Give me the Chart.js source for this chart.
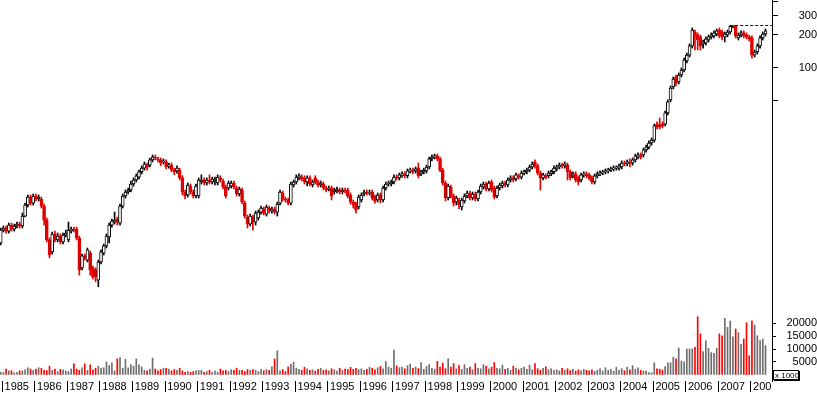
<!DOCTYPE html>
<html>
<head>
<meta charset="utf-8">
<script src="https://cdn.jsdelivr.net/npm/chart.js@4.4.0/dist/chart.umd.min.js"></script>
<style>
  html, body { margin: 0; padding: 0; background: #fff; }
  #wrap { position: relative; width: 817px; height: 395px; overflow: hidden; }
  #price { position: absolute; left: 0; top: 0; }
  #vol { position: absolute; left: 0; top: 313px; }
</style>
</head>
<body>
<div id="wrap">
  <canvas id="price" width="817" height="313"></canvas>
  <canvas id="vol" width="817" height="82"></canvas>
</div>
<script>
"use strict";

// monthly candles, first one is Dec 1984
var startYear = 1984, startMonth = 11;
var years = [1985, 1986, 1987, 1988, 1989, 1990, 1991, 1992, 1993, 1994, 1995, 1996,
             1997, 1998, 1999, 2000, 2001, 2002, 2003, 2004, 2005, 2006, 2007, 2008];

var open = [2.53,
  3.32, 3.47, 3.25, 3.69, 3.39, 3.62, 3.77, 3.62, 4.46, 5.62, 6.65, 5.86,
  6.79, 6.38, 6.38, 5.50, 4.10, 2.70, 2.10, 3.06, 2.70, 2.93, 2.59, 2.99,
  2.70, 3.25, 3.39, 3.39, 2.81, 1.50, 1.93, 1.77, 2.05, 1.50, 1.44, 1.16,
  1.70, 2.05, 2.38, 2.87, 3.69, 3.93, 4.19, 3.85, 5.50, 6.79, 7.39, 7.71,
  8.74, 9.51, 10.1, 11.3, 12.2, 13.0, 13.0, 14.5, 15.4, 14.8, 14.5, 13.9,
  13.9, 12.8, 13.0, 11.7, 11.5, 11.7, 9.93, 7.39, 6.94, 8.38, 7.39, 6.79,
  6.79, 9.12, 9.51, 8.93, 9.51, 9.12, 9.31, 8.93, 9.93, 9.31, 8.21, 8.04,
  8.38, 8.93, 8.04, 7.09, 7.71, 5.86, 4.37, 3.77, 4.37, 3.93, 4.28, 4.85,
  5.17, 4.65, 5.28, 4.95, 5.17, 4.85, 5.86, 7.24, 6.38, 6.25, 5.86, 8.56,
  9.12, 9.93, 10.1, 9.93, 9.12, 9.93, 8.56, 9.93, 9.12, 8.56, 8.74, 8.04,
  7.87, 8.04, 7.39, 7.55, 7.71, 7.39, 7.71, 7.71, 6.94, 5.99, 5.74, 5.39,
  6.25, 7.09, 7.39, 7.24, 7.39, 6.65, 6.25, 6.94, 6.25, 8.04, 8.74, 8.74,
  9.12, 10.1, 9.93, 10.6, 10.8, 10.4, 11.5, 11.7, 11.5, 12.2, 10.8, 11.3,
  11.5, 12.5, 14.8, 15.4, 15.8, 14.8, 11.7, 8.93, 6.51, 8.21, 6.79, 5.99,
  6.25, 5.39, 6.12, 6.79, 7.24, 6.51, 7.09, 6.38, 7.39, 8.21, 8.74, 7.87,
  9.12, 8.04, 6.79, 8.04, 8.38, 8.93, 8.56, 9.51, 9.93, 9.72, 10.4, 10.1,
  11.0, 11.3, 11.7, 12.5, 13.9, 12.8, 11.0, 9.93, 10.4, 10.4, 10.8, 11.3,
  12.0, 12.5, 13.0, 12.8, 13.0, 11.3, 10.4, 10.8, 9.93, 9.51, 10.6, 10.8,
  10.6, 9.93, 9.12, 10.4, 10.8, 11.0, 11.3, 11.5, 11.7, 12.0, 12.2, 12.2,
  12.5, 13.6, 13.3, 13.6, 13.6, 14.5, 15.4, 16.1, 16.1, 17.9, 19.0, 20.7,
  22.0, 30.8, 30.2, 30.8, 30.8, 38.9, 51.1, 67.1, 82.8, 74.5, 86.3, 95.9,
  116, 131, 159, 213, 200, 192, 166, 169, 180, 192, 196, 204,
  222, 213, 192, 200, 213, 240, 240, 188, 200, 209, 200, 192,
  188, 131, 140, 159, 188, 204];

var high = [3.47,
  3.62, 3.62, 3.85, 3.85, 3.77, 3.93, 3.93, 4.75, 5.86, 6.94, 6.94, 7.09,
  7.09, 6.94, 6.65, 5.74, 4.28, 2.81, 3.19, 3.25, 3.12, 3.06, 3.12, 3.32,
  3.93, 3.54, 3.54, 3.54, 2.93, 2.01, 2.01, 2.28, 2.14, 1.56, 1.50, 1.77,
  2.19, 2.48, 3.06, 3.85, 4.19, 4.85, 4.37, 5.74, 7.09, 7.71, 8.04, 9.31,
  9.93, 10.8, 11.7, 12.8, 13.9, 13.6, 15.1, 16.1, 16.1, 15.4, 15.1, 14.8,
  14.5, 13.6, 13.6, 12.2, 12.8, 12.2, 10.4, 7.71, 8.93, 8.74, 7.71, 8.74,
  9.93, 10.6, 9.93, 9.93, 10.6, 10.1, 10.1, 10.6, 10.4, 9.72, 8.56, 9.31,
  9.31, 9.31, 8.38, 8.21, 8.04, 6.12, 4.56, 4.65, 4.56, 4.95, 5.06, 5.50,
  5.39, 5.62, 5.50, 5.39, 5.39, 5.99, 7.71, 7.55, 6.65, 6.51, 9.12, 9.51,
  10.6, 10.8, 10.6, 10.4, 10.4, 10.4, 9.51, 10.4, 9.51, 9.31, 9.12, 8.38,
  8.38, 8.38, 8.04, 8.21, 8.04, 8.04, 8.04, 8.04, 7.24, 6.25, 5.99, 6.94,
  7.24, 7.71, 7.71, 7.71, 7.71, 6.94, 7.24, 7.24, 8.38, 9.12, 9.31, 9.51,
  10.6, 10.6, 11.0, 11.3, 11.3, 12.0, 12.2, 12.2, 12.5, 13.6, 11.7, 12.2,
  13.0, 15.4, 16.1, 16.4, 16.4, 15.4, 12.2, 9.31, 8.74, 8.56, 7.09, 6.79,
  6.51, 6.51, 7.09, 7.55, 7.55, 7.39, 7.39, 7.71, 8.74, 9.12, 9.12, 9.31,
  9.51, 8.38, 8.38, 8.93, 9.31, 9.31, 9.93, 10.4, 10.4, 11.0, 10.8, 11.5,
  11.7, 12.2, 13.0, 13.9, 14.5, 13.3, 11.5, 11.0, 10.8, 11.5, 11.7, 12.8,
  13.0, 13.6, 13.6, 13.9, 13.6, 11.7, 11.3, 11.3, 10.4, 11.0, 11.3, 11.3,
  11.0, 10.4, 10.8, 11.3, 11.5, 11.7, 12.0, 12.2, 12.5, 12.8, 12.8, 13.3,
  14.2, 14.2, 14.5, 14.8, 15.1, 16.4, 16.8, 16.8, 18.6, 19.8, 21.6, 23.0,
  30.8, 32.2, 35.0, 32.2, 40.5, 51.1, 68.5, 82.8, 86.3, 90.0, 100, 123,
  137, 166, 232, 222, 209, 200, 180, 192, 200, 209, 218, 227,
  232, 222, 213, 222, 244, 244, 244, 209, 218, 218, 209, 200,
  196, 146, 166, 196, 213, 227];

var low = [2.43,
  3.19, 3.12, 3.12, 3.25, 3.25, 3.47, 3.47, 3.47, 4.37, 5.39, 5.62, 5.62,
  6.12, 6.12, 5.28, 3.69, 2.59, 1.85, 2.01, 2.59, 2.59, 2.48, 2.48, 2.87,
  2.59, 3.12, 3.19, 2.70, 1.29, 1.44, 1.77, 1.70, 1.29, 1.19, 1.12, 1.01,
  1.63, 1.97, 2.28, 2.53, 3.54, 3.77, 3.69, 3.69, 5.28, 6.51, 7.09, 7.39,
  8.38, 9.12, 9.72, 10.8, 11.7, 11.7, 12.5, 13.9, 14.5, 13.9, 12.8, 13.3,
  12.0, 12.2, 11.3, 10.6, 11.0, 9.51, 6.94, 6.38, 6.65, 7.09, 6.51, 6.51,
  6.51, 8.74, 8.56, 8.56, 8.74, 8.74, 8.56, 8.56, 9.12, 7.87, 6.51, 7.71,
  8.04, 7.87, 6.79, 6.79, 5.74, 4.28, 3.47, 3.62, 3.32, 3.69, 4.10, 4.65,
  4.56, 4.46, 4.75, 4.75, 4.65, 4.46, 5.62, 6.12, 5.99, 5.62, 5.62, 8.21,
  8.74, 9.51, 9.31, 8.74, 8.38, 8.38, 8.21, 8.74, 8.21, 8.21, 7.71, 7.39,
  7.55, 6.25, 7.09, 7.24, 7.09, 7.09, 7.24, 6.51, 5.74, 5.28, 4.75, 5.17,
  5.99, 6.79, 6.94, 6.94, 6.25, 5.86, 5.99, 5.86, 5.99, 7.71, 8.38, 8.38,
  8.74, 9.51, 9.51, 10.1, 9.93, 9.93, 11.0, 10.8, 11.0, 9.93, 10.4, 10.8,
  11.0, 12.0, 14.2, 14.8, 14.2, 11.3, 8.56, 6.12, 6.25, 6.51, 5.50, 5.62,
  5.17, 5.06, 5.86, 6.51, 6.25, 6.25, 6.12, 6.12, 7.09, 7.87, 7.55, 7.55,
  7.39, 6.38, 6.51, 7.71, 8.04, 8.21, 8.21, 9.12, 9.12, 9.31, 9.72, 9.72,
  10.6, 10.8, 11.3, 12.0, 12.2, 10.6, 7.71, 9.51, 9.72, 9.93, 10.4, 10.8,
  11.5, 12.0, 12.2, 12.2, 9.51, 9.51, 9.93, 9.12, 8.56, 9.12, 10.1, 9.93,
  9.51, 8.74, 8.74, 9.93, 10.4, 10.6, 10.8, 11.0, 11.3, 11.5, 11.7, 11.7,
  12.0, 12.8, 12.8, 12.5, 13.0, 13.9, 14.8, 14.8, 15.4, 17.1, 18.3, 19.8,
  21.1, 27.8, 27.8, 28.4, 29.6, 37.3, 49.0, 64.4, 68.5, 71.5, 82.8, 91.9,
  111, 126, 152, 146, 146, 146, 152, 162, 173, 184, 188, 196,
  188, 180, 173, 192, 204, 232, 188, 180, 192, 188, 184, 176,
  123, 126, 134, 152, 180, 196];

var close = [3.32,
  3.47, 3.25, 3.69, 3.39, 3.62, 3.77, 3.62, 4.46, 5.62, 6.65, 5.86, 6.79,
  6.38, 6.65, 5.50, 4.10, 2.70, 1.97, 3.06, 2.70, 2.93, 2.59, 2.99, 3.12,
  3.32, 3.39, 3.32, 2.81, 1.44, 1.93, 1.85, 2.19, 1.44, 1.24, 1.24, 1.70,
  2.10, 2.38, 2.93, 3.69, 4.02, 4.10, 3.93, 5.50, 6.79, 7.39, 7.71, 8.74,
  9.51, 10.4, 11.3, 12.2, 13.3, 12.5, 14.5, 15.4, 15.1, 14.5, 13.6, 14.2,
  12.5, 13.0, 11.7, 11.3, 12.2, 9.93, 7.39, 6.79, 8.56, 7.39, 6.79, 8.38,
  9.51, 9.51, 8.93, 9.51, 9.12, 9.72, 9.72, 10.1, 9.51, 8.21, 6.79, 8.93,
  8.93, 8.21, 7.09, 7.87, 5.99, 4.46, 3.77, 4.46, 3.93, 4.75, 4.85, 5.28,
  4.75, 5.39, 5.06, 5.17, 4.85, 5.74, 7.39, 6.38, 6.25, 5.86, 8.74, 9.12,
  10.1, 10.4, 9.72, 9.12, 9.93, 8.74, 9.12, 9.12, 8.56, 8.93, 8.04, 7.71,
  8.04, 6.79, 7.71, 7.87, 7.39, 7.71, 7.55, 6.79, 5.99, 5.62, 5.06, 6.65,
  6.94, 7.39, 7.24, 7.39, 6.51, 6.12, 6.94, 6.25, 8.04, 8.74, 8.93, 9.12,
  10.1, 9.93, 10.6, 10.8, 10.4, 11.5, 11.7, 11.3, 12.0, 10.4, 11.3, 11.7,
  12.5, 14.8, 15.4, 15.8, 14.8, 11.7, 8.93, 6.51, 8.38, 6.79, 5.86, 6.51,
  5.62, 6.25, 6.79, 7.24, 6.51, 7.09, 6.38, 7.39, 8.38, 8.74, 7.87, 8.93,
  7.71, 6.65, 8.04, 8.56, 8.93, 8.56, 9.51, 9.93, 9.51, 10.6, 10.1, 11.0,
  11.3, 11.7, 12.5, 13.3, 12.8, 11.0, 9.93, 10.6, 10.1, 11.0, 11.3, 12.2,
  12.5, 13.0, 12.8, 13.3, 11.3, 9.93, 10.8, 9.51, 9.12, 10.6, 10.8, 10.4,
  9.93, 9.12, 10.4, 10.8, 11.0, 11.3, 11.5, 11.7, 12.0, 12.2, 12.2, 12.8,
  13.6, 13.3, 13.9, 13.3, 14.5, 15.8, 16.1, 15.4, 17.9, 19.0, 20.7, 22.0,
  29.6, 29.0, 29.0, 29.6, 38.9, 49.0, 65.7, 79.4, 73.0, 86.3, 95.9, 118,
  131, 159, 222, 196, 180, 159, 173, 184, 192, 200, 209, 218,
  196, 192, 204, 213, 240, 243, 196, 200, 209, 196, 192, 184,
  131, 140, 159, 188, 204, 218];

// volume, units of 1000
var volume = [1000,
  1000, 2300, 1600, 1600, 800, 1000, 1600, 1600, 2000, 2800, 2300, 1800,
  2300, 2800, 2600, 1800, 1700, 3400, 1800, 2300, 1300, 2200, 2000, 1600,
  1300, 2300, 4300, 2300, 1800, 2800, 4300, 1800, 3900, 2000, 2600, 3400,
  2600, 2800, 5000, 3600, 4700, 1600, 6200, 6700, 2600, 6000, 2800, 4000,
  3400, 6200, 3900, 3100, 1800, 1600, 2300, 6500, 2300, 1600, 2100, 2600,
  2600, 2300, 1600, 2100, 1800, 2600, 1600, 1000, 1300, 1000, 1300, 1600,
  1800, 1800, 1000, 1300, 1800, 1000, 1600, 1000, 2300, 1600, 1800, 1300,
  2000, 1800, 2600, 1800, 1800, 1300, 2100, 1800, 2100, 1800, 1300, 2100,
  1600, 2100, 1800, 3100, 6200, 9300, 1600, 2100, 1300, 3100, 4100, 4900,
  2600, 2200, 1800, 3000, 2400, 1800, 2000, 1500, 2200, 2600, 1800, 2000,
  1600, 2400, 2000, 1500, 2600, 1800, 2300, 2100, 3000, 2200, 2600, 2000,
  2400, 1800, 2200, 3000, 2600, 2000, 2800, 3300, 2400, 5200, 3000, 2600,
  9600, 3500, 2800, 3000, 2400, 3600, 4200, 2600, 3100, 2500, 4800, 2200,
  3300, 4000, 2600, 2200, 5200, 3000, 4600, 2400, 6200, 3000, 4400, 2400,
  3600, 2200, 4000, 2600, 3000, 2000, 4400, 2600, 2400, 4000, 3400, 2400,
  3000, 4800, 2600, 2400, 3800, 2200, 2600, 1800, 3400, 2600, 2000, 2600,
  3000, 2200, 3800, 2000, 4400, 2400, 1800, 2600, 3200, 2000, 2400, 1800,
  2000, 1600, 2600, 1800, 2400, 1700, 2200, 1500, 2000, 1600, 2200, 1800,
  1600, 2000, 1400, 1800, 2400, 1500, 2800, 1800, 2200, 1400, 3000, 1800,
  2400, 1600, 3000, 2000, 3600, 2200, 2800, 1800, 1500, 1500, 900, 900,
  4700, 2400, 2200, 1900, 3200, 4700, 4700, 6800, 6200, 10400, 5400, 5100,
  10000, 10000, 10000, 10600, 22400, 15800, 9000, 13200, 10300, 8600, 8300, 10300,
  15800, 15100, 21800, 18300, 20800, 14700, 17700, 16300, 11800, 13800, 20100, 7400,
  20800, 19200, 15100, 13200, 13800, 11300];

var priceTicks = [50, 100, 200, 300, 400];
var priceLabels = [100, 200, 300];

var xMin = 1984.929, xMax = 2008.65;
var font = { family: "'Liberation Sans', Arial, sans-serif", size: 11 };
var upEdge = '#000000', downRed = '#e00000';

var body = [], wick = [], bars = [], fills = [], edges = [], volColors = [];
var hiIdx = 0;
for (var i = 0; i < close.length; i++) {
  var x = startYear + (startMonth + i + 0.4) / 12;
  var down = close[i] < open[i];
  body.push({ x: x, y: [open[i], close[i]] });
  wick.push({ x: x, y: [low[i], high[i]] });
  bars.push({ x: x, y: volume[i] });
  fills.push(down ? downRed : '#ffffff');
  edges.push(down ? downRed : upEdge);
  volColors.push(down ? '#ff0000' : '#6e6e6e');
  if (high[i] > high[hiIdx]) hiIdx = i;
}

function noPad(s) {
  s.paddingTop = 0; s.paddingBottom = 0; s.paddingLeft = 0; s.paddingRight = 0;
}

new Chart(document.getElementById('price'), {
  type: 'bar',
  data: {
    datasets: [
      { type: 'line', data: [{ x: body[hiIdx].x, y: high[hiIdx] }, { x: xMax, y: high[hiIdx] }],
        borderColor: '#0000c0', borderWidth: 1, borderDash: [3, 2], pointRadius: 0, fill: false, order: 0 },
      { data: body, backgroundColor: fills, borderColor: edges, borderWidth: 1, borderSkipped: false,
        barThickness: 3, minBarLength: 1, grouped: false, order: 1 },
      { data: wick, backgroundColor: edges, borderWidth: 0, barThickness: 1, grouped: false, order: 2 }
    ]
  },
  options: {
    responsive: false, animation: false,
    layout: { padding: 0 },
    plugins: { legend: { display: false }, tooltip: { enabled: false } },
    scales: {
      x: {
        type: 'linear', min: xMin, max: xMax, offset: false,
        grid: { display: false, offset: false },
        ticks: { display: false },
        border: { display: true, color: '#000' },
        afterFit: function (s) { s.height = 0; noPad(s); }
      },
      y: {
        type: 'logarithmic', position: 'right', min: 0.582, max: 417,
        afterBuildTicks: function (s) { s.ticks = priceTicks.map(function (v) { return { value: v }; }); },
        afterFit: function (s) { s.width = 45; noPad(s); },
        grid: { drawOnChartArea: false, tickLength: 6, color: '#000' },
        border: { display: true, color: '#000' },
        ticks: {
          font: font, color: '#000', padding: 16, crossAlign: 'far',
          callback: function (v) { return priceLabels.indexOf(v) >= 0 ? String(v) : ''; }
        }
      }
    }
  }
});

// the "x 1000" unit box under the volume axis
var unitBox = {
  id: 'unitBox',
  afterDraw: function (chart) {
    var c = chart.ctx, bx = chart.chartArea.right + 1, by = 57;
    c.save();
    c.fillStyle = '#fff';
    c.fillRect(bx, by, 27, 11);
    c.strokeStyle = '#000';
    c.lineWidth = 1;
    c.strokeRect(bx + 0.5, by + 0.5, 25, 9);
    c.fillStyle = '#000';
    c.fillRect(bx + 26, by + 1, 1, 10);
    c.fillRect(bx + 1, by + 10, 26, 1);
    c.font = "8px 'Liberation Sans', Arial, sans-serif";
    c.textBaseline = 'middle';
    c.fillText('x 1000', bx + 2, by + 5.5);
    c.restore();
  }
};

// cut year labels at the right edge of the plot, like the original
var clipYears = {
  id: 'clipYears',
  beforeDraw: function (chart) {
    var s = chart.scales.x;
    if (s._clipPatched) return;
    var orig = s.drawLabels;
    s.drawLabels = function (area) {
      var c = this.ctx;
      c.save();
      c.beginPath();
      c.rect(0, this.top, chart.chartArea.right - 1, this.height + 5);
      c.clip();
      orig.call(this, area);
      c.restore();
    };
    s._clipPatched = true;
  }
};

new Chart(document.getElementById('vol'), {
  type: 'bar',
  data: {
    datasets: [
      { data: bars, backgroundColor: volColors, borderWidth: 0, barThickness: 1, grouped: false }
    ]
  },
  options: {
    responsive: false, animation: false,
    layout: { padding: 0 },
    plugins: { legend: { display: false }, tooltip: { enabled: false } },
    scales: {
      x: {
        type: 'linear', min: xMin, max: xMax, offset: false,
        afterBuildTicks: function (s) { s.ticks = years.map(function (v) { return { value: v }; }); },
        afterFit: function (s) { s.height = 14; noPad(s); },
        grid: { drawOnChartArea: false, offset: false, tickLength: 11, color: '#000' },
        border: { display: false },
        ticks: {
          font: font, color: '#000', align: 'start', padding: -12, maxRotation: 0, autoSkip: false,
          callback: function (v) { return '\u2009' + v; }
        }
      },
      y: {
        type: 'linear', position: 'right', min: -2310, max: 23850,
        afterBuildTicks: function (s) {
          var t = [];
          for (var v = 0; v <= 23000; v += 1000) t.push({ value: v });
          s.ticks = t;
        },
        afterFit: function (s) { s.width = 45; noPad(s); },
        grid: { drawOnChartArea: false, tickLength: 4, color: '#000' },
        border: { display: true, color: '#000' },
        ticks: {
          font: font, color: '#000', padding: 6, crossAlign: 'far',
          callback: function (v) { return (v > 0 && v % 5000 === 0) ? String(v) : ''; }
        }
      }
    }
  },
  plugins: [unitBox, clipYears]
});
</script>
</body>
</html>
